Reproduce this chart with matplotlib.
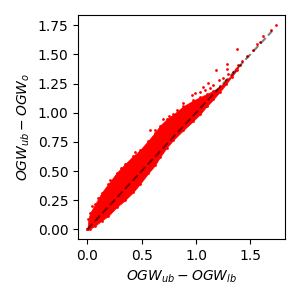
import matplotlib
matplotlib.use("Agg")
import matplotlib.pyplot as plt

# envelope of the dense point cloud
band_x = [0.0, 0.01, 0.025, 0.071, 0.132, 0.193, 0.27, 0.347, 0.423, 0.485, 0.56, 0.623, 0.669, 0.73, 0.791, 0.883, 0.975, 1.04, 1.098, 1.16, 1.22, 1.28, 1.328, 1.38]
band_upper = [0.0, 0.09, 0.14, 0.215, 0.315, 0.39, 0.485, 0.56, 0.63, 0.68, 0.76, 0.83, 0.89, 0.945, 0.985, 1.055, 1.105, 1.135, 1.16, 1.19, 1.225, 1.28, 1.325, 1.385]
band_lower = [0.0, 0.0, 0.004, 0.03, 0.075, 0.115, 0.19, 0.25, 0.32, 0.39, 0.48, 0.55, 0.62, 0.70, 0.766, 0.85, 0.93, 0.99, 1.055, 1.115, 1.18, 1.25, 1.31, 1.37]

# isolated points
x_points = [1.736, 1.687, 1.619, 1.589, 1.558, 1.522, 1.472, 1.42, 1.405, 1.39, 1.374, 1.368, 1.345, 1.298, 1.282, 1.289, 1.25, 1.216, 1.184, 1.159, 1.129, 1.113, 1.083, 1.067, 1.037, 1.021, 0.991, 0.96, 0.883, 0.822, 0.75, 0.70, 0.62, 0.58, 0.045, 0.10, 0.205, 0.31, 0.44]
y_points = [1.75, 1.709, 1.658, 1.604, 1.587, 1.538, 1.486, 1.446, 1.409, 1.409, 1.544, 1.375, 1.352, 1.33, 1.415, 1.372, 1.297, 1.28, 1.366, 1.238, 1.209, 1.252, 1.195, 1.223, 1.18, 1.109, 1.166, 1.15, 1.08, 1.02, 0.97, 0.95, 0.855, 0.85, 0.20, 0.27, 0.42, 0.53, 0.66]

# reference line
line_x = [0.0, 1.7]
line_y = [0.0, 1.7]

x_ticks = [0.0, 0.5, 1.0, 1.5]
y_ticks = [0.0, 0.25, 0.5, 0.75, 1.0, 1.25, 1.5, 1.75]

fig = plt.figure(figsize=(3, 3), dpi=100)
ax = fig.add_axes([78 / 300, 1 - 239 / 300, 207 / 300, 224 / 300])

ax.fill_between(band_x, band_lower, band_upper, color="red", lw=0.5)
ax.scatter(band_x, band_upper, s=4, c="red", linewidths=0)
ax.scatter(band_x, band_lower, s=4, c="red", linewidths=0)
ax.scatter(x_points, y_points, s=4, c="red", linewidths=0)
ax.plot(line_x, line_y, color="black", ls="--", alpha=0.5)

ax.set_xlim(-0.086, 1.819)
ax.set_ylim(-0.083, 1.838)
ax.set_xticks(x_ticks)
ax.set_yticks(y_ticks)
ax.set_xlabel(r"$OGW_{ub} - OGW_{lb}$")
ax.set_ylabel(r"$OGW_{ub} - OGW_{o}$")

fig.savefig("out.png", dpi=100)
